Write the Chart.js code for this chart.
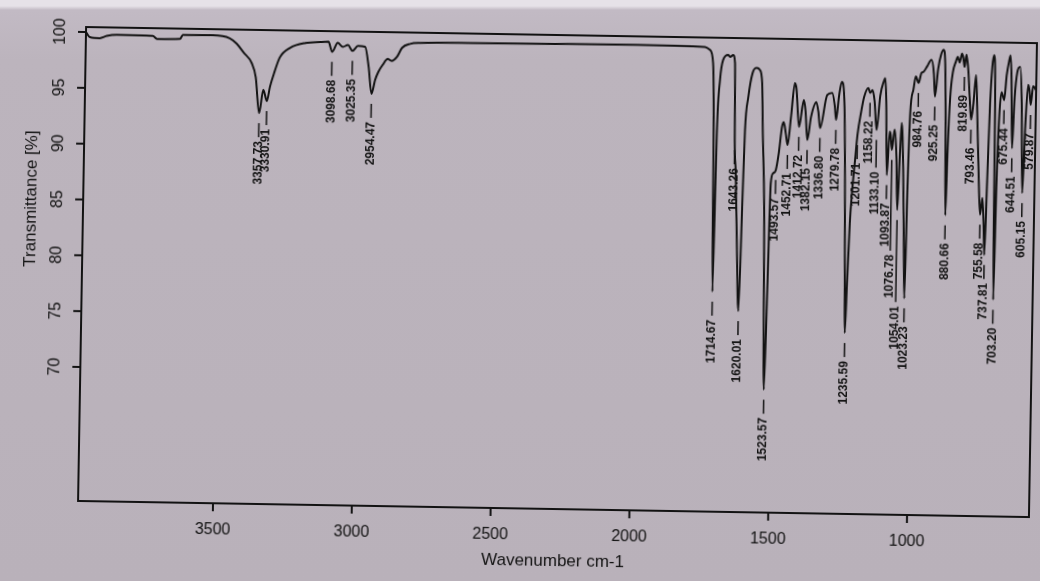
<!DOCTYPE html>
<html>
<head>
<meta charset="utf-8">
<script src="https://cdn.jsdelivr.net/npm/chart.js@4.4.1/dist/chart.umd.min.js"></script>
<style>
  html, body { margin: 0; padding: 0; }
  body {
    width: 1040px; height: 581px; overflow: hidden;
    background: linear-gradient(to bottom, #e6e2e8 0px, #e6e2e8 6px, #c2bac4 10px, #bcb4bd 60px, #b9b1ba 100%);
  }
  /* the scan is tilted by about one degree */
  #wrap { position: absolute; left: 0; top: 0; width: 1040px; height: 581px;
          transform-origin: 80px 505px; transform: rotate(0.97deg); }
</style>
</head>
<body>
<div id="wrap"><canvas id="chart" width="1040" height="581"></canvas></div>
<script>
// spectrum
const wavenumber = [
  3986, 3972, 3936, 3911, 3875, 3745, 3730, 3647, 3637, 3529,
  3468, 3443, 3417, 3388, 3372, 3357.73, 3344, 3330.91, 3320, 3305,
  3287, 3250, 3195, 3140, 3112, 3098.68, 3079, 3060, 3042, 3025.35,
  3006, 2980, 2966, 2954.47, 2942, 2931, 2916, 2898, 2884, 2865,
  2847, 2818, 2782, 2600, 2300, 2000, 1800, 1756, 1738, 1726,
  1720, 1714.67, 1708, 1700, 1690, 1672, 1665, 1654, 1647, 1645,
  1643.26, 1638, 1630, 1620.01, 1612, 1607, 1597, 1583, 1568, 1557,
  1548, 1543, 1533, 1523.57, 1517, 1511, 1503, 1493.57, 1484, 1474,
  1468, 1460, 1452.71, 1442, 1430, 1424, 1412.72, 1397, 1390, 1382.15,
  1370, 1352, 1344, 1336.80, 1313, 1295, 1285, 1279.78, 1270, 1261,
  1250, 1244, 1238, 1235.59, 1230, 1224, 1219, 1208, 1201.71, 1190,
  1180, 1165, 1158.22, 1150, 1142, 1133.10, 1122, 1110, 1105, 1100,
  1093.87, 1086, 1082, 1076.78, 1068, 1060, 1054.01, 1048, 1043, 1035,
  1028, 1023.23, 1018, 1013, 1003, 995, 984.76, 975, 968, 955,
  940, 930, 925.25, 915, 905, 896, 890, 885, 880.66, 876,
  870, 862, 852, 845, 838, 830, 825, 819.89, 814, 806,
  800, 793.46, 786, 778, 770, 762, 755.58, 748, 742, 737.81,
  732, 726, 720, 714, 708, 703.20, 698, 692, 685, 675.44,
  668, 660, 655, 650, 644.51, 638, 630, 620, 612, 605.15,
  598, 590, 585, 579.87, 572, 561
];
const transmittance = [
  100.0, 99.55, 99.47, 99.68, 99.79, 99.75, 99.49, 99.53, 99.89, 99.91,
  99.66, 99.2, 98.4, 97.5, 96.2, 93.0, 95.1, 94.1, 95.4, 96.7,
  98.0, 98.9, 99.36, 99.47, 99.5, 98.6, 99.41, 99.06, 99.24, 98.72,
  99.17, 99.1, 97.3, 94.9, 96.15, 96.87, 97.5, 98.05, 97.88, 98.24,
  99.06, 99.43, 99.53, 99.6, 99.65, 99.68, 99.65, 99.61, 99.35, 98.19,
  92.2, 77.7, 92.2, 96.67, 98.47, 98.93, 98.75, 98.93, 98.22, 95.0,
  91.3, 88.5, 82.5, 76.0, 86.0, 92.2, 95.19, 97.35, 97.81, 97.63,
  96.47, 92.26, 85.0, 69.0, 78.0, 87.5, 88.4, 88.7, 90.2, 92.56,
  93.0, 92.0, 90.95, 93.5, 96.52, 96.0, 92.59, 95.0, 94.0, 91.43,
  93.5, 94.84, 94.0, 92.53, 95.49, 95.68, 94.5, 93.27, 95.5, 96.68,
  94.44, 88.0, 78.0, 74.2, 79.0, 84.0, 86.4, 89.98, 91.95, 94.0,
  95.37, 96.18, 95.74, 96.0, 95.0, 92.44, 95.5, 96.8, 97.1, 95.0,
  88.4, 92.3, 92.0, 90.67, 92.5, 90.0, 85.3, 90.0, 93.1, 89.0,
  82.0, 77.4, 88.0, 94.0, 96.1, 97.3, 96.7, 97.6, 97.7, 98.2,
  98.8, 97.5, 95.5, 98.0, 99.3, 99.7, 98.5, 93.0, 84.9, 91.0,
  95.5, 97.7, 98.65, 99.1, 98.6, 99.4, 99.0, 98.2, 99.3, 97.8,
  95.5, 93.5, 95.0, 97.5, 93.0, 88.0, 85.0, 86.5, 84.0, 81.4,
  88.0, 95.0, 98.3, 99.3, 95.0, 77.4, 88.0, 94.0, 96.0, 95.3,
  97.5, 98.8, 99.3, 97.0, 91.0, 95.5, 97.8, 98.3, 95.0, 87.0,
  93.0, 96.7, 96.2, 94.9, 96.6, 96.2
];
const peakLabels = [
  3357.73, 3330.91, 3098.68, 3025.35, 2954.47, 1714.67, 1643.26, 1620.01,
  1523.57, 1493.57, 1452.71, 1412.72, 1382.15, 1336.80, 1279.78, 1235.59,
  1201.71, 1158.22, 1133.10, 1093.87, 1076.78, 1054.01, 1023.23, 984.76,
  925.25, 880.66, 819.89, 793.46, 755.58, 737.81, 703.20, 675.44,
  644.51, 605.15, 579.87
];
const xTicks = [3500, 3000, 2500, 2000, 1500, 1000];
const yTicks = [70, 75, 80, 85, 90, 95, 100];

const INK = '#121212';

function valueAt(w) {
  for (let i = 1; i < wavenumber.length; i++) {
    const a = wavenumber[i - 1], b = wavenumber[i];
    if (w <= a && w >= b) {
      const t = (a - w) / (a - b);
      return transmittance[i - 1] + t * (transmittance[i] - transmittance[i - 1]);
    }
  }
  return transmittance[transmittance.length - 1];
}

const axesPlugin = {
  id: 'axesPlugin',
  afterDatasetsDraw(chart) {
    const ctx = chart.ctx;
    const a = chart.chartArea;
    const xs = chart.scales.x, ys = chart.scales.y;
    ctx.save();
    ctx.strokeStyle = INK;
    ctx.fillStyle = INK;

    // frame
    ctx.lineWidth = 2;
    ctx.strokeRect(a.left, a.top, a.right - a.left, a.bottom - a.top);

    // y ticks and labels
    ctx.font = '16px "Liberation Sans", Arial, sans-serif';
    ctx.textAlign = 'center';
    ctx.textBaseline = 'middle';
    yTicks.forEach(v => {
      const y = ys.getPixelForValue(v);
      ctx.beginPath();
      ctx.moveTo(a.left - 8, y);
      ctx.lineTo(a.left, y);
      ctx.stroke();
      ctx.save();
      ctx.translate(a.left - 25, y);
      ctx.rotate(-Math.PI / 2);
      ctx.fillText(String(v), 0, 0);
      ctx.restore();
    });

    // x ticks and labels
    xTicks.forEach(v => {
      const x = xs.getPixelForValue(v);
      ctx.beginPath();
      ctx.moveTo(x, a.bottom);
      ctx.lineTo(x, a.bottom + 8);
      ctx.stroke();
      ctx.fillText(String(v), x, a.bottom + 27);
    });

    // titles
    ctx.font = '17px "Liberation Sans", Arial, sans-serif';
    ctx.fillText('Wavenumber cm-1', (a.left + a.right) / 2, a.bottom + 52);
    ctx.save();
    ctx.translate(26, ys.getPixelForValue(85));
    ctx.rotate(-Math.PI / 2);
    ctx.fillText('Transmittance [%]', 0, 0);
    ctx.restore();

    // peak labels, stacked when they would collide
    ctx.font = 'bold 12px "Liberation Sans", Arial, sans-serif';
    ctx.lineWidth = 1.5;
    const placed = [];
    peakLabels.forEach(w => {
      const txt = w.toFixed(2);
      const x = xs.getPixelForValue(w);
      const yPeak = ys.getPixelForValue(valueAt(w));
      const len = ctx.measureText(txt).width;
      let top = yPeak + 28;
      let moved = true;
      while (moved) {
        moved = false;
        for (const p of placed) {
          if (Math.abs(p.x - x) < 7.2 && top < p.bottom + 3 && top + len > p.top - 3) {
            top = p.bottom + 8;
            moved = true;
          }
        }
      }
      placed.push({ x, top, bottom: top + len });
      ctx.beginPath();
      ctx.moveTo(x, yPeak + 10);
      ctx.lineTo(x, top - 4);
      ctx.stroke();
      ctx.save();
      ctx.translate(x, top);
      ctx.rotate(-Math.PI / 2);
      ctx.textAlign = 'right';
      ctx.textBaseline = 'middle';
      ctx.fillText(txt, 0, 0);
      ctx.restore();
    });
    ctx.restore();
  }
};

new Chart(document.getElementById('chart'), {
  type: 'line',
  data: {
    datasets: [{
      data: wavenumber.map((w, i) => ({ x: w, y: transmittance[i] })),
      borderColor: INK,
      borderWidth: 2,
      pointRadius: 0,
      fill: false,
      cubicInterpolationMode: 'monotone'
    }]
  },
  options: {
    responsive: false,
    animation: false,
    devicePixelRatio: 1,
    layout: { padding: { top: 27, right: 11, left: 0, bottom: 0 } },
    plugins: { legend: { display: false }, tooltip: { enabled: false } },
    scales: {
      x: {
        type: 'linear',
        reverse: true,
        min: 561,
        max: 3986,
        ticks: { display: false },
        grid: { display: false },
        border: { display: false },
        afterFit: s => { s.height = 80; }
      },
      y: {
        min: 58,
        max: 100.45,
        ticks: { display: false },
        grid: { display: false },
        border: { display: false },
        afterFit: s => { s.width = 78; }
      }
    }
  },
  plugins: [axesPlugin]
});
</script>
</body>
</html>
